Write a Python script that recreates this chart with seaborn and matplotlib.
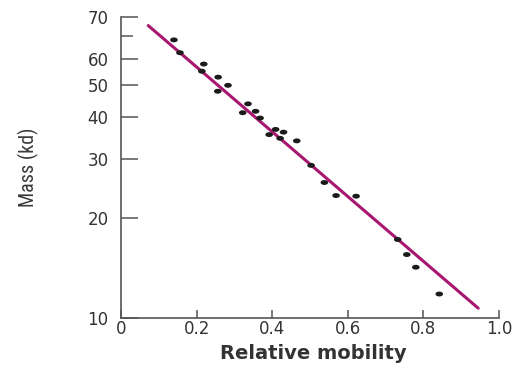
import numpy as np
import pandas as pd
import seaborn as sns
import matplotlib
matplotlib.use("Agg")
import matplotlib.pyplot as plt
from matplotlib.path import Path
from matplotlib.ticker import FixedLocator, NullFormatter

# ---- data ----
mobility = [0.140, 0.156, 0.219, 0.214, 0.257, 0.283, 0.256, 0.336, 0.322, 0.356,
            0.368, 0.409, 0.392, 0.430, 0.421, 0.465, 0.503, 0.538, 0.569, 0.622,
            0.732, 0.756, 0.780, 0.842]
mass = [68.3, 62.5, 57.8, 55.0, 52.8, 49.9, 47.9, 43.9, 41.3, 41.7,
        39.8, 36.8, 35.5, 36.1, 34.6, 34.0, 28.7, 25.5, 23.3, 23.2,
        17.2, 15.5, 14.2, 11.8]
fit_x = [0.072, 0.945]
fit_y = [75.4, 10.7]
x_ticks = [0, 0.2, 0.4, 0.6, 0.8, 1.0]
x_tick_labels = ["0", "0.2", "0.4", "0.6", "0.8", "1.0"]
y_ticks = [10, 20, 30, 40, 50, 60, 80]
y_tick_labels = ["10", "20", "30", "40", "50", "60", "70"]
y_minor_ticks = [70]

df = pd.DataFrame({"mobility": mobility, "mass": mass})
fit = pd.DataFrame({"x": fit_x, "y": fit_y})

sns.set_style("ticks")
plt.rcParams["font.family"] = ["DejaVu Sans"]

fig = plt.figure(figsize=(5.18, 3.72), dpi=100)
ax = fig.add_axes([0.2336, 0.1452, 0.7297, 0.8091])
ax.set_yscale("log")

circ = Path.unit_circle()
ellipse = Path(circ.vertices * np.array([1.55, 1.0]), circ.codes)

sns.lineplot(data=fit, x="x", y="y", ax=ax, color="#A8166F", linewidth=2.2, zorder=2)
sns.scatterplot(data=df, x="mobility", y="mass", ax=ax, marker=ellipse, s=30,
                color="#1b1b1b", edgecolor="none", zorder=3)

ax.set_xlim(0, 1.0)
ax.set_ylim(10, 80)

ax.xaxis.set_major_locator(FixedLocator(x_ticks))
ax.set_xticklabels(x_tick_labels)
ax.yaxis.set_major_locator(FixedLocator(y_ticks))
ax.yaxis.set_minor_locator(FixedLocator(y_minor_ticks))
ax.yaxis.set_minor_formatter(NullFormatter())
ax.set_yticklabels(y_tick_labels)
ax.xaxis.set_minor_locator(FixedLocator([]))

tick_col = "#333333"
ax.tick_params(axis="y", which="major", direction="in", length=12, width=1.1,
               color="#555555", labelsize=12, labelcolor=tick_col, pad=9)
ax.tick_params(axis="y", which="minor", direction="in", length=8.5, width=1.1,
               color="#555555")
ax.tick_params(axis="x", which="major", direction="in", length=6, width=1.1,
               color="#555555", labelsize=12, labelcolor=tick_col, pad=1.5)

for s in ["top", "right"]:
    ax.spines[s].set_visible(False)
for s in ["left", "bottom"]:
    ax.spines[s].set_color("#555555")
    ax.spines[s].set_linewidth(1.2)

ax.set_xlabel("Relative mobility", fontsize=14, fontweight="bold", color="#333333")
ax.xaxis.set_label_coords(0.51, -0.085)
ax.set_ylabel("Mass (kd)", fontsize=14.5, color="#3a3a3a",
              family=["Roboto Condensed", "DejaVu Sans"], va="center")
ax.yaxis.set_label_coords(-0.246, 0.5)

fig.savefig("out.png", dpi=100)
